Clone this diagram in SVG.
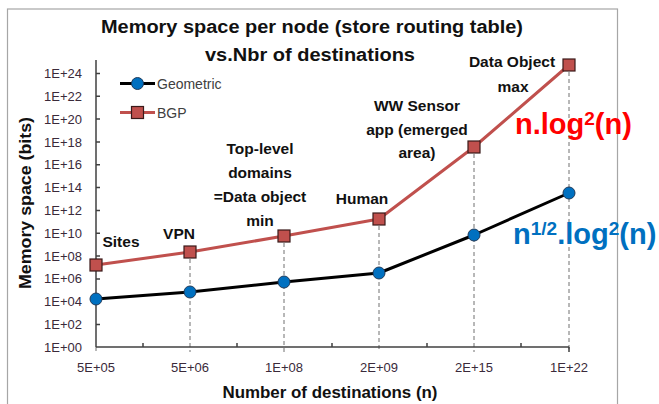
<svg xmlns="http://www.w3.org/2000/svg" width="659" height="404" viewBox="0 0 659 404">
<style>
.tick{font-family:"Liberation Sans",Arial,sans-serif;font-size:13px;fill:#3a2a3a}
.ann{font-family:"Liberation Sans",Arial,sans-serif;font-size:15.5px;font-weight:bold;fill:#111;text-anchor:middle}
.ttl{font-family:"Liberation Sans",Arial,sans-serif;font-weight:bold;fill:#111;text-anchor:middle}
.leg{font-family:"Liberation Sans",Arial,sans-serif;font-size:14px;fill:#404040}
.drop{stroke:#707070;stroke-width:1;stroke-dasharray:4,3;fill:none}
.ax{stroke:#404040;stroke-width:1.5;fill:none}
.geo{stroke:#000;stroke-width:3;fill:none;stroke-linejoin:round}
.bgp{stroke:#c0504d;stroke-width:3;fill:none;stroke-linejoin:round}
.cm{fill:#0070c0;stroke:#1f3a5a;stroke-width:1}
.sm{fill:#c0504d;stroke:#3a1a1a;stroke-width:1.2}
.big{font-family:"Liberation Sans",Arial,sans-serif;font-size:29px;font-weight:bold}
.sup{font-size:19px}
</style>
<defs>
<circle id="cmark" r="6" class="cm"/>
<rect id="smark" x="-6" y="-6" width="12" height="12" class="sm"/>
</defs>
<rect x="0" y="0" width="659" height="404" fill="#fff"/>
<rect x="7.5" y="9" width="610" height="400" fill="none" stroke="#a6a6a6" stroke-width="1.2"/>

<g id="title">
<text class="ttl" x="312" y="33" font-size="18" textLength="422" lengthAdjust="spacingAndGlyphs">Memory space per node (store routing table)</text>
<text class="ttl" x="310" y="61" font-size="18" textLength="210" lengthAdjust="spacingAndGlyphs">vs.Nbr of destinations</text>
</g>

<g id="connectors">
<line class="drop" x1="190" y1="252" x2="190" y2="352"/>
<line class="drop" x1="284" y1="236" x2="284" y2="352"/>
<line class="drop" x1="379" y1="219" x2="379" y2="352"/>
<line class="drop" x1="474" y1="147" x2="474" y2="352"/>
<line class="drop" x1="569" y1="65" x2="569" y2="352"/>
<line class="drop" x1="96" y1="347" x2="96" y2="352"/>
</g>

<g id="axes">
<line class="ax" x1="96" y1="60" x2="96" y2="347"/>
<line class="ax" x1="96" y1="347" x2="569" y2="347"/>
<path class="ax" stroke-width="1.2" d="M96 73.5h4M96 96.3h4M96 119.1h4M96 141.9h4M96 164.8h4M96 187.6h4M96 210.4h4M96 233.2h4M96 256h4M96 278.9h4M96 301.7h4M96 324.5h4M143 347v-4M237 347v-4M332 347v-4M427 347v-4M521 347v-4M569 347v5"/>
<g class="tick" text-anchor="end">
<text x="82" y="78">1E+24</text>
<text x="82" y="101">1E+22</text>
<text x="82" y="123.5">1E+20</text>
<text x="82" y="146.5">1E+18</text>
<text x="82" y="169">1E+16</text>
<text x="82" y="192">1E+14</text>
<text x="82" y="215">1E+12</text>
<text x="82" y="237.5">1E+10</text>
<text x="82" y="260.5">1E+08</text>
<text x="82" y="283">1E+06</text>
<text x="82" y="306">1E+04</text>
<text x="82" y="329">1E+02</text>
<text x="82" y="351.5">1E+00</text>
</g>
<g class="tick" text-anchor="middle">
<text x="96" y="372">5E+05</text>
<text x="190" y="372">5E+06</text>
<text x="284" y="372">1E+08</text>
<text x="379" y="372">2E+09</text>
<text x="474" y="372">2E+15</text>
<text x="569" y="372">1E+22</text>
</g>
<text class="ttl" x="330" y="398" font-size="16" textLength="215" lengthAdjust="spacingAndGlyphs">Number of destinations (n)</text>
<text class="ttl" transform="translate(31,203) rotate(-90)" font-size="16" textLength="172" lengthAdjust="spacingAndGlyphs">Memory  space (bits)</text>
</g>

<g id="series-bgp">
<polyline class="bgp" points="96,265 190,252 284,236 379,219 474,147 569,65"/>
<use href="#smark" x="96" y="265"/>
<use href="#smark" x="190" y="252"/>
<use href="#smark" x="284" y="236"/>
<use href="#smark" x="379" y="219"/>
<use href="#smark" x="474" y="147"/>
<use href="#smark" x="569" y="65"/>
</g>

<g id="series-geometric">
<polyline class="geo" points="96,299 190,292 284,282 379,273 474,235 569,193"/>
<use href="#cmark" x="96" y="299"/>
<use href="#cmark" x="190" y="292"/>
<use href="#cmark" x="284" y="282"/>
<use href="#cmark" x="379" y="273"/>
<use href="#cmark" x="474" y="235"/>
<use href="#cmark" x="569" y="193"/>
</g>

<g id="legend">
<line x1="120" y1="83.5" x2="155" y2="83.5" stroke="#000" stroke-width="3"/>
<use href="#cmark" x="137.5" y="83.5"/>
<text class="leg" x="157" y="88.5">Geometric</text>
<line x1="120" y1="112.5" x2="155" y2="112.5" stroke="#c0504d" stroke-width="3"/>
<use href="#smark" x="137.5" y="112.5"/>
<text class="leg" x="157" y="117.5">BGP</text>
</g>

<g id="label-sites"><text class="ann" x="121" y="247">Sites</text></g>
<g id="label-vpn"><text class="ann" x="179" y="239">VPN</text></g>
<g id="label-toplevel">
<text class="ann" x="260" y="154">Top-level</text>
<text class="ann" x="260" y="178">domains</text>
<text class="ann" x="260" y="202">=Data object</text>
<text class="ann" x="260" y="226">min</text>
</g>
<g id="label-human"><text class="ann" x="362" y="204">Human</text></g>
<g id="label-sensor">
<text class="ann" x="417" y="111">WW Sensor</text>
<text class="ann" x="417" y="135">app (emerged</text>
<text class="ann" x="417" y="158">area)</text>
</g>
<g id="label-dataobject">
<text class="ann" x="512" y="67">Data Object</text>
<text class="ann" x="513" y="92">max</text>
</g>

<g id="formula-bgp">
<text class="big" x="515" y="134" fill="#ff0000">n.log<tspan class="sup" dy="-9">2</tspan><tspan dy="9">(n)</tspan></text>
</g>
<g id="formula-geo">
<text class="big" x="513" y="244" fill="#0070c0">n<tspan class="sup" dy="-9">1/2</tspan><tspan dy="9">.log</tspan><tspan class="sup" dy="-9">2</tspan><tspan dy="9">(n)</tspan></text>
</g>
</svg>
